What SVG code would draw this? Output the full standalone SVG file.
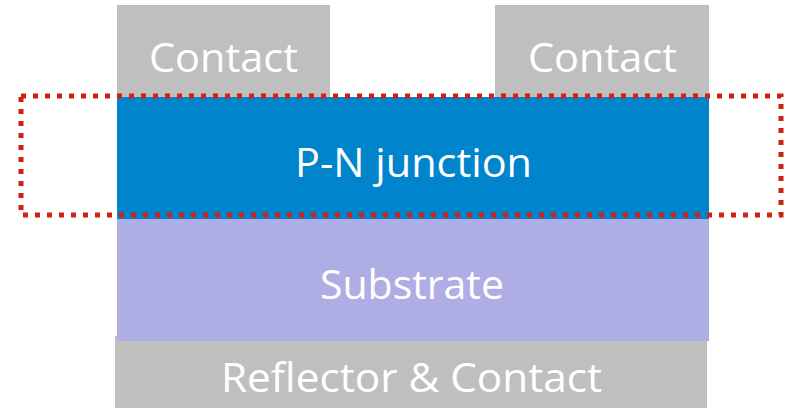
<svg xmlns="http://www.w3.org/2000/svg" width="788" height="408" viewBox="0 0 788 408">
<style>
.lbl{font-family:"Open Sans","Noto Sans","Liberation Sans",sans-serif;font-size:41px;fill:#FFFFFF;text-anchor:middle}
.grey{fill:#BFBFBF}
</style>
<rect width="788" height="408" fill="#FFFFFF"/>
<g id="reflector">
<rect class="grey" x="115" y="336" width="592" height="72"/>
<text class="lbl" x="411.5" y="392" textLength="381" lengthAdjust="spacingAndGlyphs">Reflector &amp; Contact</text>
</g>
<g id="substrate">
<rect x="117" y="219" width="592" height="122" fill="#AEAEE5"/>
<text class="lbl" x="412" y="299" textLength="184" lengthAdjust="spacingAndGlyphs">Substrate</text>
</g>
<g id="pn-junction">
<rect x="117" y="97" width="592" height="122" fill="#0084CC"/>
<text class="lbl" x="413.5" y="177" textLength="237" lengthAdjust="spacingAndGlyphs">P-N junction</text>
</g>
<g id="contact-left">
<rect class="grey" x="117" y="5" width="213" height="92"/>
<text class="lbl" x="223.5" y="71.5" textLength="149" lengthAdjust="spacingAndGlyphs">Contact</text>
</g>
<g id="contact-right">
<rect class="grey" x="495" y="5" width="214" height="92"/>
<text class="lbl" x="602.5" y="71.5" textLength="149" lengthAdjust="spacingAndGlyphs">Contact</text>
</g>
<g id="highlight">
<rect x="21" y="96" width="760" height="119" fill="none" stroke="#D02010" stroke-width="5" stroke-dasharray="5 7"/>
</g>
</svg>
